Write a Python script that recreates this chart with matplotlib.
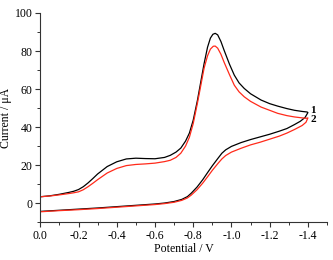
import matplotlib
matplotlib.use("Agg")
import matplotlib.pyplot as plt
from matplotlib.ticker import MultipleLocator

plt.rcParams['font.family'] = ['Liberation Serif', 'DejaVu Serif']

# Curve 1 (black): forward scan then reverse scan
potential_1 = [0.00, -0.05, -0.10, -0.15, -0.175, -0.20, -0.225, -0.25, -0.275, -0.30, -0.35, -0.40, -0.45,
               -0.50, -0.55, -0.60, -0.65, -0.68, -0.71, -0.735, -0.76, -0.78, -0.80,
               -0.822, -0.84, -0.857, -0.875, -0.89, -0.903, -0.915, -0.928, -0.945, -0.962,
               -0.99, -1.015, -1.04, -1.067, -1.10, -1.155, -1.20, -1.242, -1.29, -1.33,
               -1.37, -1.396, -1.40,
               -1.385, -1.36, -1.33, -1.29, -1.25, -1.20, -1.15, -1.10, -1.05, -1.00,
               -0.97, -0.95, -0.93, -0.90, -0.875, -0.85, -0.82, -0.79, -0.77, -0.74,
               -0.70, -0.65, -0.60, -0.50, -0.40, -0.30, -0.20, -0.10, 0.00]
current_1 = [3.3, 3.8, 4.6, 5.6, 6.2, 7.1, 8.6, 10.6, 12.9, 15.3, 19.2, 21.7, 23.2,
             23.6, 23.4, 23.3, 24.0, 25.1, 26.8, 28.9, 32.6, 36.8, 43.6,
             54.0, 64.0, 73.4, 82.0, 86.8, 88.8, 89.3, 88.5, 85.0, 80.3,
             73.0, 67.3, 63.2, 60.3, 57.5, 54.2, 52.3, 51.0, 49.7, 48.8,
             48.2, 47.9, 47.6,
             45.0, 43.0, 41.3, 39.2, 37.8, 36.2, 34.8, 33.4, 31.8, 29.8,
             28.0, 26.2, 23.6, 19.6, 16.0, 12.3, 8.4, 5.2, 3.4, 1.9,
             0.8, 0.0, -0.5, -1.2, -1.9, -2.6, -3.2, -3.8, -4.4]

# Curve 2 (red): forward scan then reverse scan
potential_2 = [0.00, -0.05, -0.10, -0.15, -0.175, -0.20, -0.225, -0.25, -0.275, -0.30, -0.35, -0.40, -0.45,
               -0.50, -0.55, -0.60, -0.65, -0.68, -0.71, -0.735, -0.76, -0.78, -0.80,
               -0.822, -0.84, -0.857, -0.875, -0.89, -0.905, -0.915, -0.928, -0.945, -0.962,
               -0.99, -1.015, -1.04, -1.067, -1.10, -1.155, -1.20, -1.242, -1.29, -1.33,
               -1.37, -1.39, -1.40,
               -1.39, -1.37, -1.33, -1.29, -1.25, -1.20, -1.15, -1.10, -1.05, -1.00,
               -0.97, -0.95, -0.93, -0.90, -0.875, -0.85, -0.82, -0.79, -0.77, -0.74,
               -0.70, -0.65, -0.60, -0.50, -0.40, -0.30, -0.20, -0.10, 0.00]
current_2 = [3.3, 3.7, 4.3, 5.0, 5.4, 5.9, 7.0, 8.6, 10.4, 12.3, 15.8, 18.2, 19.7,
             20.3, 20.6, 21.0, 21.8, 22.5, 24.0, 26.2, 30.0, 34.6, 41.8,
             52.5, 62.0, 71.0, 77.5, 81.0, 82.5, 82.6, 81.5, 78.3, 74.0,
             67.5, 62.0, 58.5, 55.9, 53.5, 50.5, 48.8, 47.2, 46.0, 45.3,
             44.8, 44.6, 44.8,
             42.5, 40.8, 38.7, 36.8, 35.2, 33.6, 32.0, 30.6, 28.8, 26.8,
             25.0, 23.2, 20.9, 17.2, 13.8, 10.5, 7.0, 4.2, 2.7, 1.4,
             0.4, -0.3, -0.8, -1.5, -2.2, -2.9, -3.5, -4.0, -4.6]

curve_labels = ["1", "2"]
label_pos = [(-1.413, 48.5), (-1.413, 44.0)]

fig = plt.figure(figsize=(3.33, 2.60), dpi=100)
ax = fig.add_axes([0.121, 0.146, 0.861, 0.804])

ax.plot(potential_1, current_1, color='black', lw=0.9, solid_joinstyle='round')
ax.plot(potential_2, current_2, color='#ff2a1a', lw=0.9, solid_joinstyle='round')

for lab, (px, py) in zip(curve_labels, label_pos):
    ax.text(px, py, lab, fontsize=8, fontweight='bold', ha='left', va='center')

ax.set_xlim(0.0, -1.5)
ax.set_ylim(-10, 100)
ax.xaxis.set_minor_locator(MultipleLocator(0.1))
ax.yaxis.set_minor_locator(MultipleLocator(10))
ax.set_xticks([0.0, -0.2, -0.4, -0.6, -0.8, -1.0, -1.2, -1.4])
ax.set_xticklabels(['0.0', '-0.2', '-0.4', '-0.6', '-0.8', '-1.0', '-1.2', '-1.4'])
ax.set_yticks([0, 20, 40, 60, 80, 100])

ax.spines['top'].set_visible(False)
ax.spines['right'].set_visible(False)
for s in ['left', 'bottom']:
    ax.spines[s].set_linewidth(0.8)
    ax.spines[s].set_color('#333333')

ax.tick_params(which='major', direction='out', length=3.5, width=0.8, labelsize=8.5, pad=2, colors='#333333', labelcolor='black')
ax.tick_params(which='minor', direction='out', length=2, width=0.7, colors='#333333')

ax.set_xlabel('Potential / V', fontsize=8.5, labelpad=1)
ax.set_ylabel('Current / μA', fontsize=8.5, labelpad=2)

fig.savefig('out.png', dpi=100)
